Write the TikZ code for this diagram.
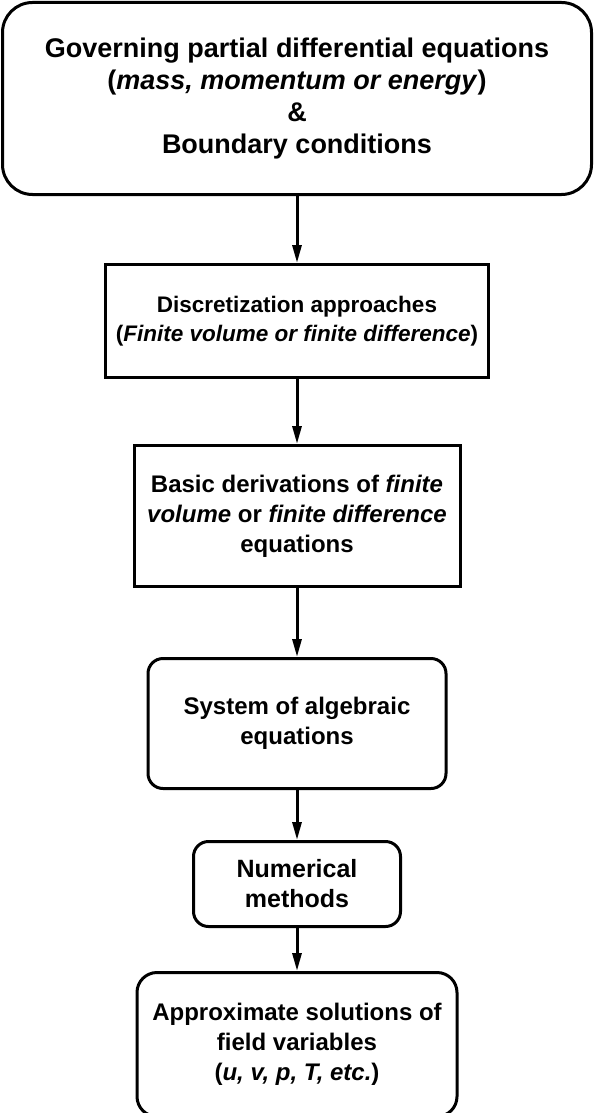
\documentclass[tikz,border=0pt]{standalone}
\usepackage{fontspec}
\setmainfont{Liberation Sans}
\usetikzlibrary{arrows.meta,positioning}

\begin{document}
\begin{tikzpicture}[>={Triangle[length=18pt,width=9pt]},
  every node/.style={align=center,font=\fontsize{24}{30}\selectfont\bfseries},
  box/.style={draw,line width=3pt,inner sep=0pt},
  rbox/.style={box,rounded corners=15pt},
  flow/.style={->,line width=3pt}]
\useasboundingbox (0,0) rectangle (594pt,-1113pt);
\node (pde)    [rbox,rounded corners=30pt,minimum width=589pt,minimum height=192pt,
                font=\fontsize{27}{32}\selectfont\bfseries] at (297pt,-98.5pt)
  {Governing partial differential equations\\(\textit{mass, momentum or energy})\\\&\\Boundary conditions};
\node (disc)   [box,below=67pt of pde,minimum width=383pt,minimum height=113pt,
                font=\fontsize{22.5}{29}\selectfont\bfseries]
  {Discretization approaches\\(\textit{Finite volume or finite difference})};
\node (deriv)  [box,below=65pt of disc,minimum width=326pt,minimum height=141pt]
  {Basic derivations of \textit{finite}\\\textit{volume} or \textit{finite difference}\\equations};
\node (alg)    [rbox,below=69pt of deriv,minimum width=298pt,minimum height=130pt]
  {System of algebraic\\equations};
\node (num)    [rbox,below=50pt of alg,minimum width=207pt,minimum height=85pt,
                font=\fontsize{25}{30}\selectfont\bfseries]
  {Numerical\\methods};
\node (approx) [rbox,rounded corners=20pt,below=43pt of num,minimum width=320pt,minimum height=144pt]
  {Approximate solutions of\\field variables\\(\textit{u, v, p, T, etc.})};
\draw[flow] (pde) -- (disc);
\draw[flow] (disc) -- (deriv);
\draw[flow] (deriv) -- (alg);
\draw[flow] (alg) -- (num);
\draw[flow] (num) -- (approx);
\end{tikzpicture}
\end{document}
